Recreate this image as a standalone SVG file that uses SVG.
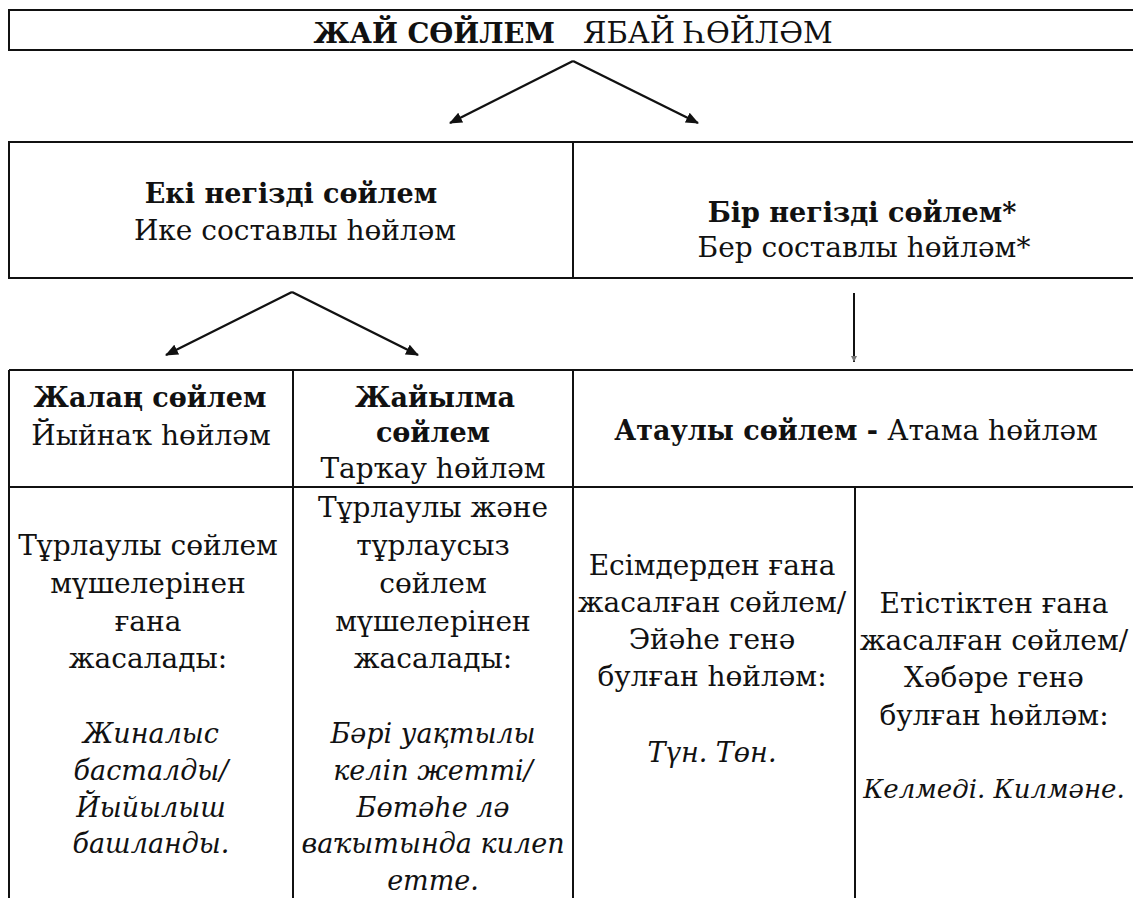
<svg xmlns="http://www.w3.org/2000/svg" width="1133" height="898" viewBox="0 0 1133 898">
<style>
text{font-family:"DejaVu Serif","Liberation Serif",serif;fill:#111;text-anchor:middle}
.b{font-weight:bold;font-size:27px}
.r{font-size:28px}
.i{font-size:27px;font-style:italic}
.h{font-size:29px}
.hb{font-size:27.5px;font-weight:bold}
.ln{stroke:#111;stroke-width:2;fill:none}
.ar{stroke:#111;stroke-width:2.4;fill:none}
</style>
<defs>
<marker id="ah" viewBox="0 0 13 11" refX="12" refY="5.5" markerWidth="13" markerHeight="11" markerUnits="userSpaceOnUse" orient="auto"><path d="M0,0 L13,5.5 L0,11 Z" fill="#111"/></marker>
<marker id="ahs" viewBox="0 0 6 6" refX="6" refY="3" markerWidth="6" markerHeight="6" markerUnits="userSpaceOnUse" orient="auto"><path d="M0,0 L6,3 L0,6 Z" fill="#777"/></marker>
</defs>
<rect width="1133" height="898" fill="#fff"/>
<g id="title">
<path class="ln" d="M1133,10 H9 V50 H1133"/>
<text class="hb" x="555" y="43" style="text-anchor:end">ЖАЙ СӨЙЛЕМ</text>
<text class="h" x="583" y="43" style="text-anchor:start">ЯБАЙ ҺӨЙЛӘМ</text>
</g>
<g id="two-part">
<path class="ln" d="M573,142 H9 V278 H573"/>
<text class="b" x="291" y="203">Екі негізді сөйлем</text>
<text class="r" x="295" y="240">Ике составлы һөйләм</text>
</g>
<g id="one-part">
<path class="ln" d="M573,142 H1133 M573,142 V278 M573,278 H1133"/>
<text class="b" x="862" y="222">Бір негізді сөйлем*</text>
<text class="r" x="864" y="257">Бер составлы һөйләм*</text>
</g>
<g id="table-lines">
<path class="ln" d="M9,370 H1133 M9,487 H1133 M9,370 V898 M293,370 V898 M573,370 V898 M855,487 V898"/>
</g>
<g id="simple">
<text class="b" x="150" y="407">Жалаң сөйлем</text>
<text class="r" x="151" y="445">Йыйнаҡ һөйләм</text>
</g>
<g id="extended">
<text class="b" x="435" y="407">Жайылма</text>
<text class="b" x="433" y="442">сөйлем</text>
<text class="r" x="433" y="478">Тарҡау һөйләм</text>
</g>
<g id="nominative">
<text class="r" x="856" y="440"><tspan style="font-weight:bold;font-size:27px">Атаулы сөйлем - </tspan>Атама һөйләм</text>
</g>
<g id="simple-desc">
<text class="r" x="148" y="555">Тұрлаулы сөйлем</text>
<text class="r" x="148" y="593">мүшелерінен</text>
<text class="r" x="148" y="631">ғана</text>
<text class="r" x="148" y="668">жасалады:</text>
<text class="i" x="151" y="743">Жиналыс</text>
<text class="i" x="151" y="780">басталды/</text>
<text class="i" x="151" y="817">Йыйылыш</text>
<text class="i" x="151" y="853">башланды.</text>
</g>
<g id="extended-desc">
<text class="r" x="433" y="517">Тұрлаулы және</text>
<text class="r" x="433" y="555">тұрлаусыз</text>
<text class="r" x="433" y="593">сөйлем</text>
<text class="r" x="433" y="631">мүшелерінен</text>
<text class="r" x="433" y="668">жасалады:</text>
<text class="i" x="433" y="743">Бәрі уақтылы</text>
<text class="i" x="433" y="780">келіп жетті/</text>
<text class="i" x="433" y="817">Бөтәһе лә</text>
<text class="i" x="433" y="853">ваҡытында килеп</text>
<text class="i" x="433" y="890">етте.</text>
</g>
<g id="noun-desc">
<text class="r" x="712" y="575">Есімдерден ғана</text>
<text class="r" x="712" y="612">жасалған сөйлем/</text>
<text class="r" x="712" y="649">Эйәһе генә</text>
<text class="r" x="712" y="686">булған һөйләм:</text>
<text class="i" x="712" y="762">Түн. Төн.</text>
</g>
<g id="verb-desc">
<text class="r" x="994" y="613">Етістіктен ғана</text>
<text class="r" x="994" y="650">жасалған сөйлем/</text>
<text class="r" x="994" y="687">Хәбәре генә</text>
<text class="r" x="994" y="725">булған һөйләм:</text>
<text class="i" x="994" y="798" style="font-size:26px">Келмеді. Килмәне.</text>
</g>
<g id="connectors">
<line class="ar" x1="573" y1="61" x2="450" y2="123" marker-end="url(#ah)"/>
<line class="ar" x1="573" y1="61" x2="698" y2="123" marker-end="url(#ah)"/>
<line class="ar" x1="292" y1="292" x2="166" y2="355" marker-end="url(#ah)"/>
<line class="ar" x1="292" y1="292" x2="418" y2="355" marker-end="url(#ah)"/>
<line class="ln" x1="854" y1="293" x2="854" y2="362" marker-end="url(#ahs)"/>
</g>
</svg>
